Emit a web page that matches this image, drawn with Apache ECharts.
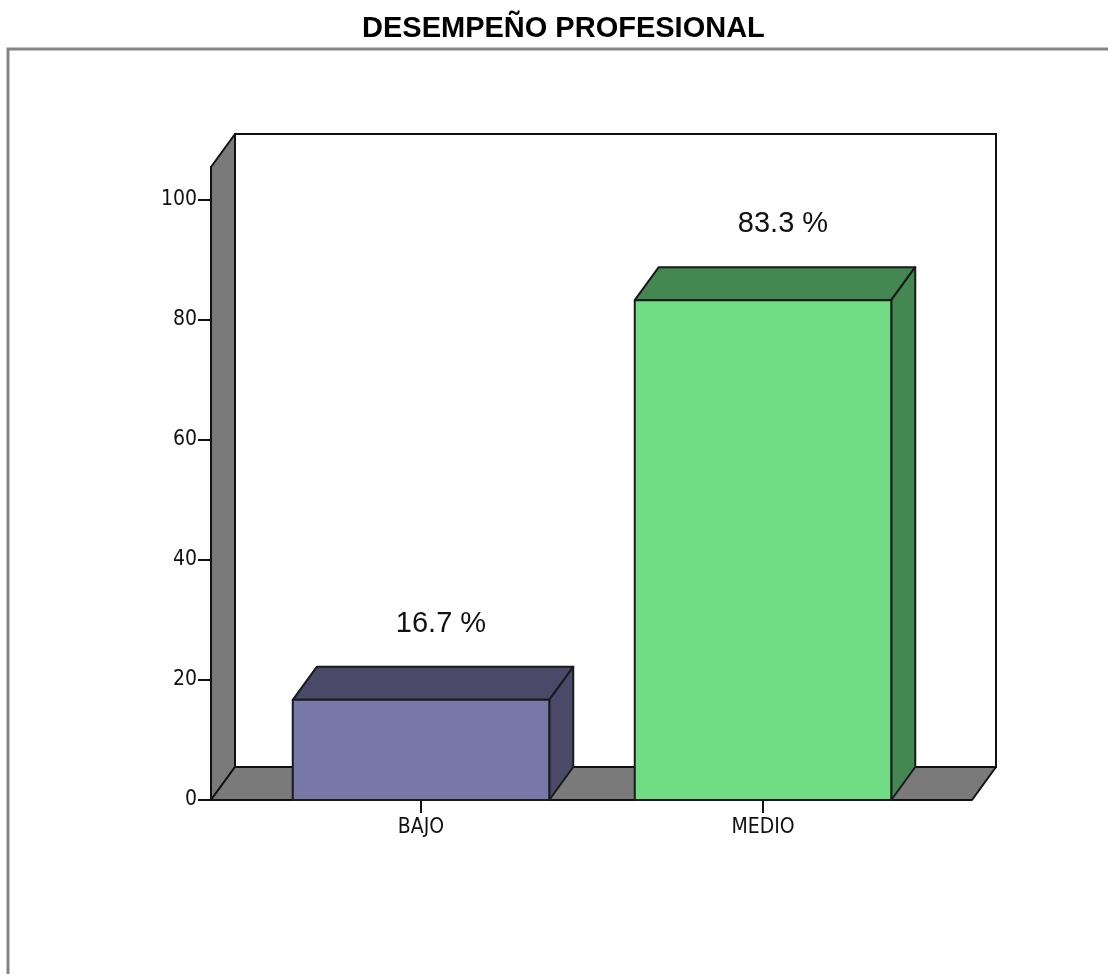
<!DOCTYPE html>
<html>
<head>
<meta charset="utf-8">
<script src="https://cdn.jsdelivr.net/npm/echarts@6/dist/echarts.min.js"></script>
<style>
  html, body { margin: 0; padding: 0; background: #fff; }
  #chart { width: 1108px; height: 974px; }
</style>
</head>
<body>
<div id="chart"></div>
<script>
// datos del grafico
var categorias = ['BAJO', 'MEDIO'];
var porcentajes = [16.7, 83.3];
var yTicks = [0, 20, 40, 60, 80, 100];

var frontColors = ['#7878a8', '#70dc84'];
var darkColors = ['#4a4a68', '#458752'];

var chart = echarts.init(document.getElementById('chart'));

// desplazamiento de profundidad (efecto 3D)
var DX = 24, DY = -33;
var Y_OFF = 39;      // eje Y separado de la rejilla
var FLOOR_EXT = 38;  // el piso se extiende a la derecha
var narrow = '"Liberation Sans Narrow", "DejaVu Sans Condensed", "Liberation Sans", Arial, sans-serif';

function paredes(params, api) {
  var cs = params.coordSys;
  var x0 = cs.x - Y_OFF;
  var x1 = cs.x + cs.width + FLOOR_EXT;
  var yb = cs.y + cs.height;
  var yt = cs.y;
  var edge = { stroke: '#111', lineWidth: 2, lineJoin: 'round' };
  return {
    type: 'group',
    children: [
      { // pared del fondo
        type: 'polygon',
        shape: { points: [[x0 + DX, yt + DY], [x1 + DX, yt + DY], [x1 + DX, yb + DY], [x0 + DX, yb + DY]] },
        style: { fill: '#fff', stroke: '#111', lineWidth: 2 }
      },
      { // pared izquierda
        type: 'polygon',
        shape: { points: [[x0, yb], [x0, yt], [x0 + DX, yt + DY], [x0 + DX, yb + DY]] },
        style: Object.assign({ fill: '#7a7a7a' }, edge)
      },
      { // piso
        type: 'polygon',
        shape: { points: [[x0, yb], [x0 + DX, yb + DY], [x1 + DX, yb + DY], [x1, yb]] },
        style: Object.assign({ fill: '#7a7a7a' }, edge)
      }
    ]
  };
}

function barras(params, api) {
  var idx = api.value(0);
  var val = api.value(1);
  var top = api.coord([idx, val]);
  var base = api.coord([idx, 0]);
  var half = api.size([1, 0])[0] * 0.375;
  var l = top[0] - half, r = top[0] + half;
  var t = top[1], b = base[1];
  var edge = { stroke: '#1a1a1a', lineWidth: 2, lineJoin: 'round' };
  return {
    type: 'group',
    children: [
      {
        type: 'polygon',
        shape: { points: [[l, t], [l + DX, t + DY], [r + DX, t + DY], [r, t]] },
        style: Object.assign({ fill: darkColors[idx] }, edge)
      },
      {
        type: 'polygon',
        shape: { points: [[r, t], [r + DX, t + DY], [r + DX, b + DY], [r, b]] },
        style: Object.assign({ fill: darkColors[idx] }, edge)
      },
      {
        type: 'rect',
        shape: { x: l, y: t, width: r - l, height: b - t },
        style: Object.assign({ fill: frontColors[idx] }, edge)
      },
      {
        type: 'text',
        x: top[0] + 20,
        y: t - 76,
        style: {
          text: val.toFixed(1) + ' %',
          fill: '#111',
          font: '29px "Liberation Sans", Arial, sans-serif',
          align: 'center',
          verticalAlign: 'middle'
        }
      }
    ]
  };
}

var option = {
  backgroundColor: '#fff',
  animation: false,
  title: {
    text: 'DESEMPEÑO PROFESIONAL',
    left: 362,
    top: 14,
    padding: 0,
    textStyle: {
      fontFamily: '"Liberation Sans", Arial, sans-serif',
      fontSize: 29,
      fontWeight: 'bold',
      color: '#000'
    }
  },
  graphic: [{
    type: 'polyline',
    shape: { points: [[8, 974], [8, 49], [1110, 49]] },
    style: { stroke: '#858585', lineWidth: 3, fill: null },
    z: 0
  }],
  grid: { left: 250, right: 174, top: 167, bottom: 174 },
  xAxis: {
    type: 'category',
    data: categorias,
    axisLine: { show: false },
    axisTick: { show: true, alignWithLabel: true, length: 13, lineStyle: { color: '#111', width: 2 } },
    axisLabel: { margin: 17, fontFamily: narrow, fontSize: 21, color: '#111' },
    splitLine: { show: false },
    z: 5
  },
  yAxis: {
    type: 'value',
    min: 0,
    max: 105.5,
    interval: 20,
    offset: Y_OFF,
    axisLine: { show: true, lineStyle: { color: '#111', width: 2 } },
    axisTick: { show: true, length: 13, customValues: yTicks, lineStyle: { color: '#111', width: 2 } },
    axisLabel: {
      margin: 14,
      fontFamily: narrow,
      fontSize: 21,
      color: '#111',
      customValues: yTicks
    },
    splitLine: { show: false },
    z: 5
  },
  series: [
    {
      type: 'custom',
      renderItem: paredes,
      data: [[0, 0]],
      silent: true,
      z: 1
    },
    {
      type: 'custom',
      renderItem: barras,
      data: porcentajes.map(function (v, i) { return [i, v]; }),
      z: 2
    }
  ]
};

chart.setOption(option);
</script>
</body>
</html>
